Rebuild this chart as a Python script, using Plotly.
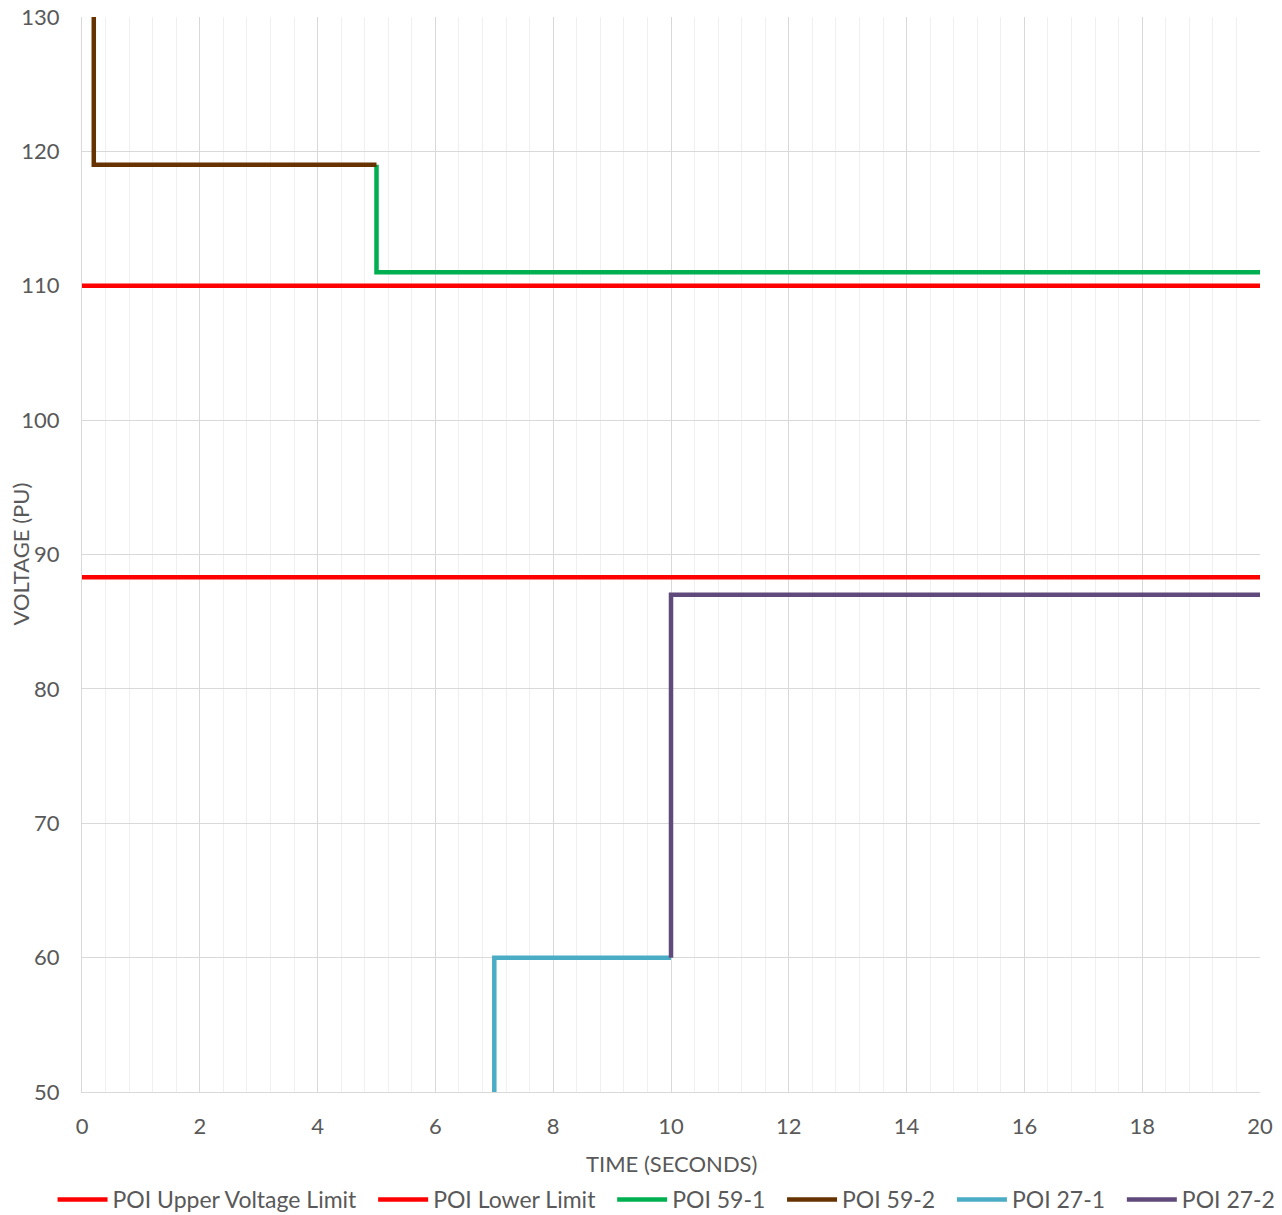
import plotly.graph_objects as go

# ---- data ----
upper_x = [0, 20]
upper_y = [110, 110]
lower_x = [0, 20]
lower_y = [88.3, 88.3]
poi59_1_x = [5, 5, 20]
poi59_1_y = [119, 111, 111]
poi59_2_x = [0.2, 0.2, 5]
poi59_2_y = [130, 119, 119]
poi27_1_x = [7, 7, 10]
poi27_1_y = [50, 60, 60]
poi27_2_x = [10, 10, 20]
poi27_2_y = [60, 87, 87]

series = [
    ("POI Upper Voltage Limit", upper_x, upper_y, "#FF0000"),
    ("POI Lower Limit", lower_x, lower_y, "#FF0000"),
    ("POI 59-1", poi59_1_x, poi59_1_y, "#00B050"),
    ("POI 59-2", poi59_2_x, poi59_2_y, "#663300"),
    ("POI 27-1", poi27_1_x, poi27_1_y, "#4BACC6"),
    ("POI 27-2", poi27_2_x, poi27_2_y, "#604A7B"),
]

FONT = "Lato, 'Open Sans', sans-serif"
GRAY = "#595959"
PAD = "\u00a0\u00a0"

fig = go.Figure()
for i, (name, xs, ys, col) in enumerate(series):
    label = name if i == len(series) - 1 else name + PAD
    fig.add_trace(go.Scatter(x=xs, y=ys, mode="lines", name=label,
                             line=dict(color=col, width=4.5)))

fig.update_layout(
    width=1282, height=1215,
    margin=dict(l=82, r=22, t=17, b=123, autoexpand=False),
    paper_bgcolor="white", plot_bgcolor="white",
    font=dict(family=FONT, color=GRAY, size=22),
    showlegend=True,
    legend=dict(orientation="h", x=-0.025, xanchor="left", xref="paper",
                y=-0.08, yanchor="top", yref="paper",
                font=dict(size=23, color=GRAY, family=FONT),
                itemwidth=50),
    xaxis=dict(range=[0, 20], dtick=2, tick0=0, automargin=False,
               showgrid=True, gridcolor="#d9d9d9", gridwidth=1,
               minor=dict(dtick=0.4, showgrid=True, gridcolor="#f0f0f0", gridwidth=1),
               showline=True, linecolor="#d9d9d9", linewidth=1,
               zeroline=False,
               ticks="outside", ticklen=15, tickcolor="rgba(0,0,0,0)",
               tickfont=dict(size=22, color=GRAY)),
    yaxis=dict(range=[50, 130], dtick=10, tick0=50, automargin=False,
               showgrid=True, gridcolor="#d9d9d9", gridwidth=1,
               showline=True, linecolor="#d9d9d9", linewidth=1,
               zeroline=False,
               ticks="outside", ticklen=17, tickcolor="rgba(0,0,0,0)",
               tickfont=dict(size=22, color=GRAY)),
    annotations=[
        dict(text="TIME (SECONDS)", xref="paper", yref="paper", x=0.5, y=0,
             xanchor="center", yanchor="middle", yshift=-71, showarrow=False,
             font=dict(size=22, color=GRAY)),
        dict(text="VOLTAGE (PU)", xref="paper", yref="paper", x=0, y=0.5,
             xanchor="center", yanchor="middle", xshift=-62, textangle=-90,
             showarrow=False, font=dict(size=22, color=GRAY)),
    ],
)

fig.write_html("out.html", config={"displayModeBar": False},
               post_script="document.body.style.margin='0px';")
